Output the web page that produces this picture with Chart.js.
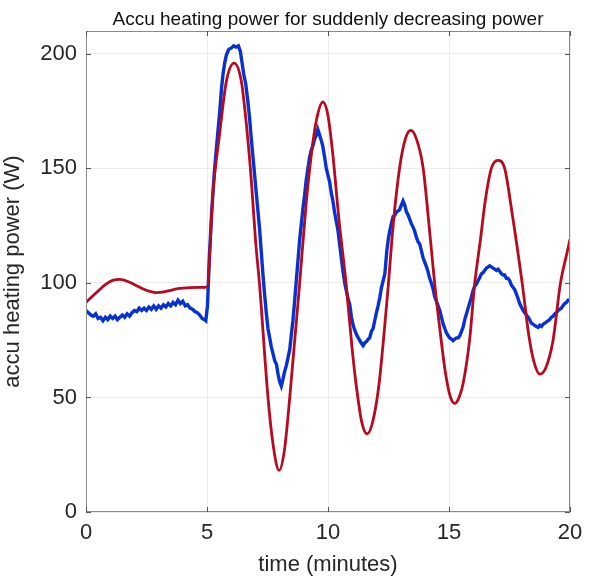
<!DOCTYPE html>
<html>
<head>
<meta charset="utf-8">
<script src="https://cdn.jsdelivr.net/npm/chart.js@4.4.0/dist/chart.umd.min.js"></script>
<style>
  html, body { margin: 0; padding: 0; background: #ffffff; }
  #wrap { width: 592px; height: 584px; }
</style>
</head>
<body>
<div id="wrap"><canvas id="c" width="592" height="584"></canvas></div>
<script>
// ---- data ----
const chartTitle = 'Accu heating power for suddenly decreasing power';
const xLabel = 'time (minutes)';
const yLabel = 'accu heating power (W)';
const xTicks = [0, 5, 10, 15, 20];
const yTicks = [0, 50, 100, 150, 200];

// model curve (red)
const tModel = [0, 0.4, 0.8, 1.1, 1.4, 1.8, 2.2, 2.6, 2.9, 3.3, 3.8, 4.3, 4.7, 5.0,
  5.25, 5.52, 5.8, 6.12, 6.42, 6.63, 6.83, 7.01, 7.17, 7.52, 7.75, 7.98, 8.2, 8.42, 8.83,
  9.1, 9.3, 9.52, 9.79, 10.0, 10.2, 10.45, 10.75, 11.0, 11.17, 11.4, 11.62, 11.85, 12.1,
  12.3, 12.48, 12.7, 12.96, 13.2, 13.42, 13.65, 13.93, 14.15, 14.41, 14.62, 14.85, 15.05,
  15.24, 15.45, 15.6, 15.85, 16.06, 16.3, 16.5, 16.75, 17.02, 17.3, 17.6, 18.03, 18.3,
  18.5, 18.75, 19.0, 19.3, 19.6, 19.85, 20];
const vModel = [91.5, 95.5, 99.3, 101.1, 101.6, 100.3, 98.2, 96.4, 95.8, 96.3, 97.5, 98.0, 98.1, 98.2,
  140, 165, 188, 196, 188, 169, 145, 118, 99.5, 50, 28, 18.2, 27, 50, 100,
  135, 155, 171, 179, 173, 156, 128, 99.5, 71, 55, 39, 34.1, 39.5, 55,
  76, 97.5, 126, 150.3, 163, 166.6, 163, 150.3, 128, 99.5, 80, 61, 50.5,
  47.4, 51, 57, 75, 99.5, 119, 136, 150, 153.5, 150, 131, 99.5, 77,
  66, 60.2, 63, 75, 99.5, 112, 119];

// measured curve (blue)
const tMeas = [0, 0.1, 0.2, 0.3, 0.4, 0.5, 0.6, 0.7, 0.8, 0.9, 1.0, 1.1, 1.2, 1.3, 1.4, 1.5, 1.6, 1.7, 1.8, 1.9,
  2.0, 2.1, 2.2, 2.3, 2.4, 2.5, 2.6, 2.7, 2.8, 2.9, 3.0, 3.1, 3.2, 3.3, 3.4, 3.5, 3.6, 3.7, 3.8, 3.9,
  4.0, 4.1, 4.2, 4.3, 4.4, 4.5, 4.6, 4.7, 4.8, 4.9, 4.95,
  5.02, 5.1, 5.2, 5.3, 5.39, 5.45, 5.52, 5.6, 5.66, 5.73, 5.8, 5.9, 6.0, 6.1, 6.2, 6.3, 6.38, 6.45, 6.52,
  6.6, 6.68, 6.76, 6.83, 6.9, 6.97, 7.03, 7.1, 7.17, 7.24, 7.31, 7.38, 7.45, 7.52, 7.59, 7.66, 7.73, 7.8,
  7.87, 7.94, 8.0, 8.07, 8.14, 8.2, 8.28, 8.35, 8.42, 8.48, 8.55, 8.62, 8.69, 8.76, 8.83, 8.9, 8.97,
  9.04, 9.1, 9.17, 9.24, 9.31, 9.38, 9.45, 9.52, 9.58, 9.64, 9.7, 9.78, 9.86, 9.93, 10.0, 10.07, 10.14,
  10.2, 10.27, 10.34, 10.41, 10.48, 10.55, 10.62, 10.7, 10.77, 10.83, 10.9, 10.97, 11.03, 11.1, 11.2,
  11.28, 11.36, 11.45, 11.53, 11.6, 11.66, 11.72, 11.8, 11.86, 11.93, 12.0, 12.07, 12.14, 12.21, 12.28,
  12.35, 12.43, 12.49, 12.55, 12.62, 12.69, 12.76, 12.83, 12.9, 12.96, 13.03, 13.1, 13.17, 13.24, 13.3,
  13.37, 13.44, 13.51, 13.58, 13.65, 13.72, 13.79, 13.86, 13.93, 14.0, 14.07, 14.13, 14.2, 14.27, 14.34,
  14.41, 14.48, 14.55, 14.62, 14.69, 14.76, 14.83, 14.89, 14.96, 15.03, 15.1, 15.17, 15.24, 15.31, 15.38,
  15.45, 15.52, 15.59, 15.65, 15.72, 15.79, 15.86, 15.93, 15.99, 16.06, 16.13, 16.2, 16.27, 16.34, 16.41,
  16.48, 16.55, 16.62, 16.68, 16.75, 16.82, 16.89, 16.96, 17.03, 17.1, 17.17, 17.24, 17.3, 17.37, 17.44,
  17.51, 17.58, 17.65, 17.72, 17.79, 17.86, 17.92, 17.99, 18.06, 18.13, 18.2, 18.27, 18.33, 18.4, 18.47,
  18.54, 18.61, 18.68, 18.75, 18.82, 18.89, 18.96, 19.03, 19.1, 19.16, 19.23, 19.3, 19.37, 19.44, 19.51,
  19.57, 19.64, 19.71, 19.78, 19.85, 19.92, 20.0];
const vMeas = [88, 87, 86, 85.5, 86.5, 84.5, 85, 83.5, 85, 84, 85.5, 84.5, 85.5, 84, 85, 86, 85, 86.5, 85.5, 87,
  88, 87.5, 89, 88, 89, 88, 89.5, 88.5, 90, 88.5, 90, 89, 90.5, 89.5, 91, 90, 91.5, 90.5, 92.5, 91,
  92, 90, 90.5, 89, 88.5, 87.5, 87, 86, 84.5, 84, 83.5,
  90, 112, 132, 148, 159, 166, 174, 185, 191, 196, 199.5, 202, 202.5, 203.5, 203, 203.5, 201, 196, 191,
  187, 180, 172, 163, 155, 147, 140, 132, 124, 114, 104, 95, 87, 80, 76, 72, 69, 66,
  64.5, 60, 57, 55, 58, 61, 64, 67.5, 71, 77, 83.5, 92, 101, 110, 119, 126, 133,
  139, 145, 150, 155, 158, 160, 163, 164.5, 167, 165, 163, 160, 155, 150, 147, 144, 139,
  136, 131, 127, 123, 117, 111, 105, 99.5, 96, 93, 90.5, 85, 82, 79.5, 77,
  75.5, 74, 72.6, 74, 74.5, 75.5, 76, 79, 80, 83.5, 87, 90, 93.6, 98, 101,
  104, 114, 119, 122.7, 126, 129, 129.5, 131, 131.5, 132, 134, 135.8, 134, 131, 130,
  128, 126, 124.5, 122.7, 120, 118, 117, 114, 111, 109, 107, 105, 102, 100, 97.5,
  94, 92, 90, 88, 85, 82, 80, 78.4, 77, 76, 75.5, 74.8, 75.5, 76, 76,
  77, 79, 81, 84, 86.4, 89, 91.5, 94, 96.6, 98.5, 99.5, 101, 102.4, 104, 104.5,
  105.5, 106.5, 107, 107.5, 107, 106.5, 106, 105.5, 106, 105, 104, 103.5, 103.5, 102, 102,
  100.9, 99, 98, 97, 95, 93, 91, 89.5, 88, 87, 86, 85, 84, 82.5, 82,
  81.5, 81, 80.6, 81.5, 81, 82, 82.5, 83, 83.5, 84, 85, 85.5, 86.5, 87, 88,
  88.5, 89, 90, 91, 91.5, 92.5, 92.5];

const redColor = '#b7091f';
const blueColor = '#0832d0';
const textColor = '#262626';
const fontFamily = "'Liberation Sans', Arial, Helvetica, sans-serif";

const toPts = (ts, vs) => ts.map((t, i) => ({ x: t, y: vs[i] }));

const boxPlugin = {
  id: 'matlabBox',
  afterDraw(chart) {
    const { ctx, chartArea: a, scales } = chart;
    ctx.save();
    ctx.strokeStyle = '#8a8a8a';
    ctx.lineWidth = 1;
    ctx.strokeRect(a.left + 0.5, a.top + 0.5, a.right - a.left - 1, a.bottom - a.top - 1);
    ctx.strokeStyle = '#555555';
    const L = 5;
    ctx.beginPath();
    xTicks.forEach(v => {
      const x = Math.round(scales.x.getPixelForValue(v)) + 0.5;
      ctx.moveTo(x, a.bottom); ctx.lineTo(x, a.bottom - L);
      ctx.moveTo(x, a.top); ctx.lineTo(x, a.top + L);
    });
    yTicks.forEach(v => {
      const y = Math.round(scales.y.getPixelForValue(v)) + 0.5;
      ctx.moveTo(a.left, y); ctx.lineTo(a.left + L, y);
      ctx.moveTo(a.right, y); ctx.lineTo(a.right - L, y);
    });
    ctx.stroke();
    ctx.restore();
  }
};

new Chart(document.getElementById('c'), {
  type: 'line',
  data: {
    datasets: [
      {
        label: 'model',
        data: toPts(tModel, vModel),
        borderColor: redColor,
        borderWidth: 2.8,
        pointRadius: 0,
        cubicInterpolationMode: 'monotone',
        fill: false
      },
      {
        label: 'measured',
        data: toPts(tMeas, vMeas),
        borderColor: blueColor,
        borderWidth: 3.4,
        pointRadius: 0,
        tension: 0,
        fill: false
      }
    ]
  },
  options: {
    responsive: false,
    animation: false,
    devicePixelRatio: 1,
    layout: { padding: { top: 0, right: 22, left: 0, bottom: 0 } },
    plugins: {
      legend: { display: false },
      tooltip: { enabled: false },
      title: {
        display: true,
        text: chartTitle,
        fullSize: false,
        color: '#111111',
        font: { family: fontFamily, size: 19, weight: 'normal' },
        padding: { top: 8, bottom: 0.2 }
      }
    },
    scales: {
      x: {
        type: 'linear',
        min: 0, max: 20,
        afterBuildTicks: s => { s.ticks = xTicks.map(v => ({ value: v })); },
        afterFit: s => { s.height = 72; },
        ticks: { color: textColor, font: { family: fontFamily, size: 22 }, padding: 8, maxRotation: 0 },
        grid: { color: '#ebebeb', drawTicks: false },
        border: { display: false },
        title: { display: true, text: xLabel, color: textColor, font: { family: fontFamily, size: 22 }, padding: { top: 0, bottom: 6 } }
      },
      y: {
        type: 'linear',
        min: 0, max: 210,
        afterBuildTicks: s => { s.ticks = yTicks.map(v => ({ value: v })); },
        afterFit: s => { s.width = 86; },
        ticks: { color: textColor, font: { family: fontFamily, size: 22 }, padding: 9 },
        grid: { color: '#ebebeb', drawTicks: false },
        border: { display: false },
        title: { display: true, text: yLabel, color: textColor, font: { family: fontFamily, size: 22 }, padding: { top: 0, bottom: 6 } }
      }
    }
  },
  plugins: [boxPlugin]
});
</script>
</body>
</html>
